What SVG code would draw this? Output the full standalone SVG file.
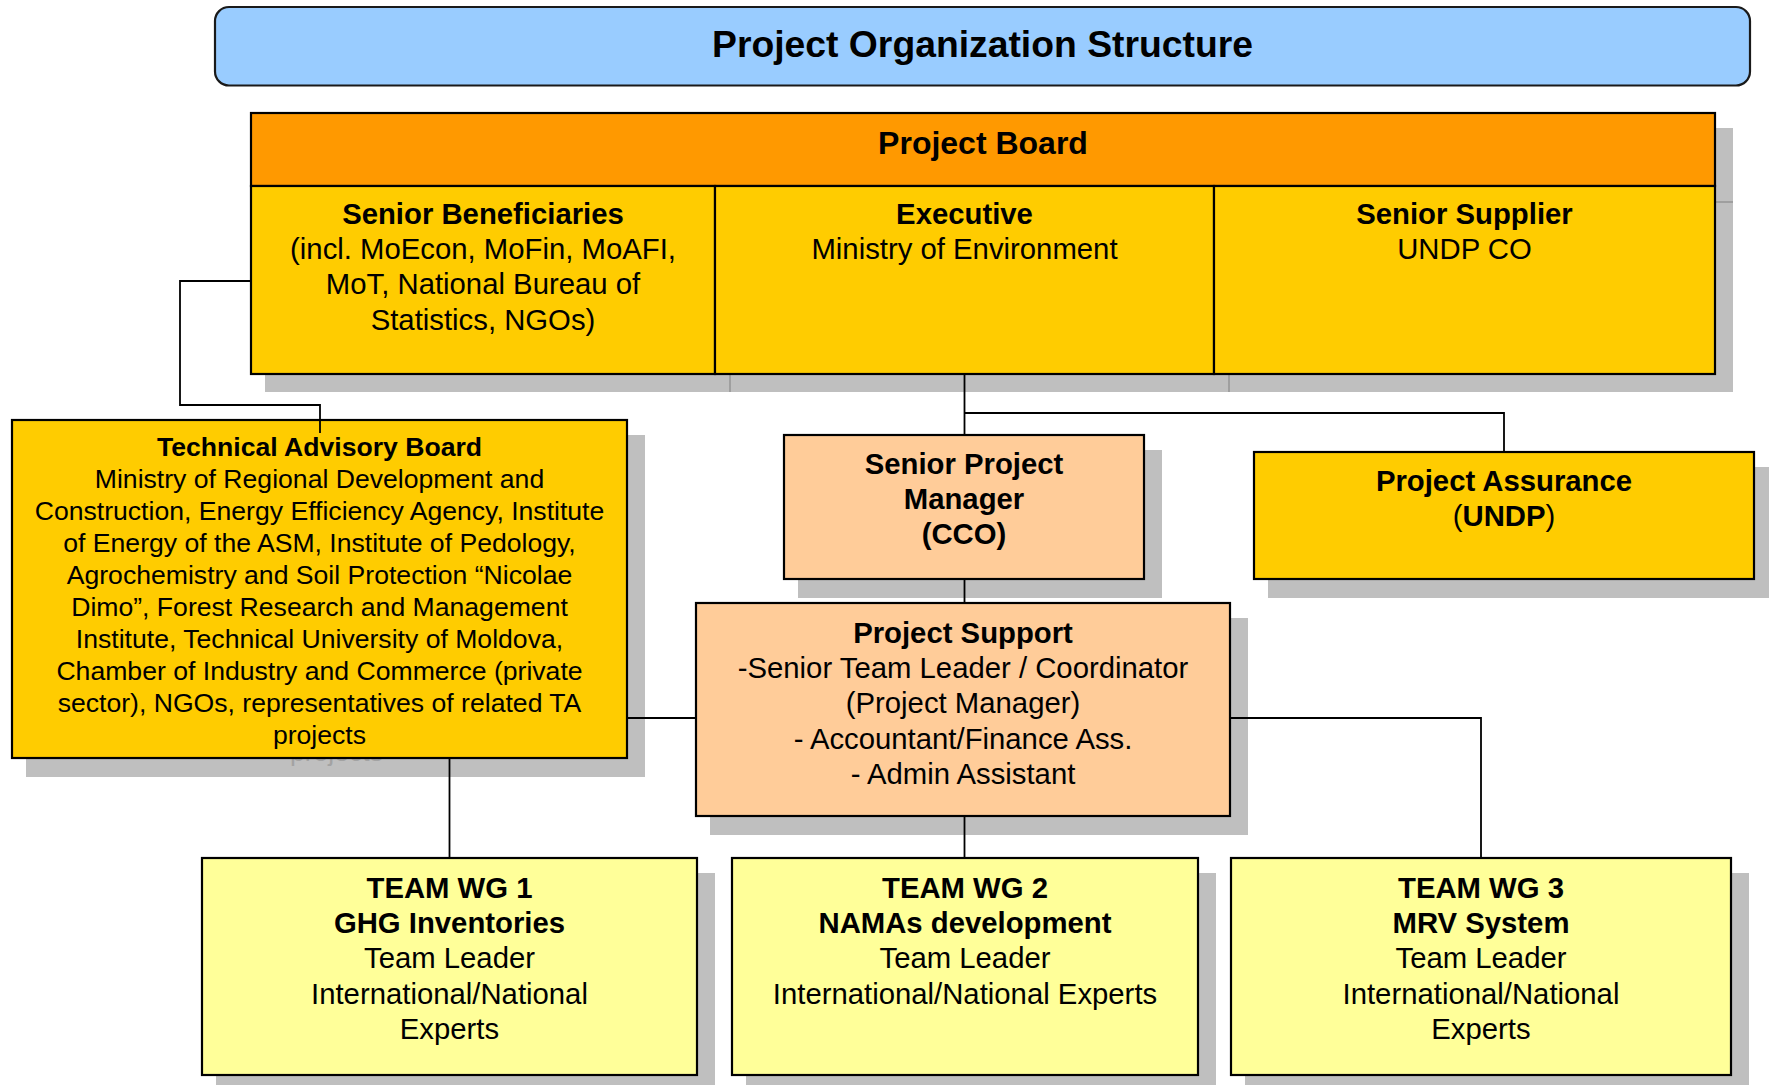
<svg xmlns="http://www.w3.org/2000/svg" width="1769" height="1085" viewBox="0 0 1769 1085">
  <style>
    text { font-family: "Liberation Sans", Arial, sans-serif; fill: #000; text-anchor: middle; }
    .b { font-weight: bold; }
    .t29 { font-size: 29.3px; }
    .t27 { font-size: 26.6px; }
    .box { stroke: #000; stroke-width: 2.2; }
    .shadow { fill: #7f7f7f; fill-opacity: 0.5; stroke: none; }
    .orange { fill: #FF9900; }
    .gold { fill: #FFCC00; }
    .peach { fill: #FFCC99; }
    .pale { fill: #FFFF99; }
    .conn { fill: none; stroke: #000; stroke-width: 1.8; }
  </style>
  <rect width="1769" height="1085" fill="#fff"/>

  <!-- title banner -->
  <g id="title">
    <rect x="215" y="7" width="1535" height="78.5" rx="14" ry="14" fill="#99CCFF" stroke="#1a1a1a" stroke-width="2.2"/>
    <text x="982.5" y="57" class="b" font-size="37.3px">Project Organization Structure</text>
  </g>

  <!-- project board: header bar plus three member cells -->
  <g id="project-board">
    <rect class="shadow" x="265" y="128" width="1468" height="75"/>
    <rect class="shadow" x="265" y="201" width="466" height="191"/>
    <rect class="shadow" x="729" y="201" width="501" height="191"/>
    <rect class="shadow" x="1228" y="201" width="505" height="191"/>
    <rect class="box orange" x="251" y="113" width="1464" height="73"/>
    <text x="983" y="154" class="b" font-size="32px">Project Board</text>
  </g>
  <g id="senior-beneficiaries">
    <rect class="box gold" x="251" y="186" width="464" height="188"/>
    <text class="t29" x="483" y="224"><tspan class="b">Senior Beneficiaries</tspan><tspan x="483" dy="35.2">(incl. MoEcon, MoFin, MoAFI,</tspan><tspan x="483" dy="35.2">MoT, National Bureau of</tspan><tspan x="483" dy="35.2">Statistics, NGOs)</tspan></text>
  </g>
  <g id="executive">
    <rect class="box gold" x="715" y="186" width="499" height="188"/>
    <text class="t29" x="964.5" y="224"><tspan class="b">Executive</tspan><tspan x="964.5" dy="35.2">Ministry of Environment</tspan></text>
  </g>
  <g id="senior-supplier">
    <rect class="box gold" x="1214" y="186" width="501" height="188"/>
    <text class="t29" x="1464.5" y="224"><tspan class="b">Senior Supplier</tspan><tspan x="1464.5" dy="35.2">UNDP CO</tspan></text>
  </g>

  <!-- technical advisory board -->
  <g id="technical-advisory-board">
    <rect class="shadow" x="26" y="435" width="619" height="342"/>
    <text class="t27" x="336.5" y="761" fill="#a3a3a3" style="fill:#a3a3a3">projects</text>
    <rect class="box gold" x="12" y="420" width="615" height="338"/>
    <text class="t27" x="319.5" y="456"><tspan class="b">Technical Advisory Board</tspan><tspan x="319.5" dy="32">Ministry of Regional Development and</tspan><tspan x="319.5" dy="32">Construction, Energy Efficiency Agency, Institute</tspan><tspan x="319.5" dy="32">of Energy of the ASM, Institute of Pedology,</tspan><tspan x="319.5" dy="32">Agrochemistry and Soil Protection “Nicolae</tspan><tspan x="319.5" dy="32">Dimo”, Forest Research and Management</tspan><tspan x="319.5" dy="32">Institute, Technical University of Moldova,</tspan><tspan x="319.5" dy="32">Chamber of Industry and Commerce (private</tspan><tspan x="319.5" dy="32">sector), NGOs, representatives of related TA</tspan><tspan x="319.5" dy="32">projects</tspan></text>
  </g>

  <!-- senior project manager -->
  <g id="senior-project-manager">
    <rect class="shadow" x="798" y="450" width="364" height="148"/>
    <rect class="box peach" x="784" y="435" width="360" height="144"/>
    <text class="t29 b" x="964" y="474"><tspan>Senior Project</tspan><tspan x="964" dy="35.2">Manager</tspan><tspan x="964" dy="35.2">(CCO)</tspan></text>
  </g>

  <!-- project assurance -->
  <g id="project-assurance">
    <rect class="shadow" x="1268" y="467" width="504" height="131"/>
    <rect class="box gold" x="1254" y="452" width="500" height="127"/>
    <text class="t29" x="1504" y="491"><tspan class="b">Project Assurance</tspan><tspan x="1504" dy="35.2">(<tspan class="b">UNDP</tspan>)</tspan></text>
  </g>

  <!-- project support -->
  <g id="project-support">
    <rect class="shadow" x="710" y="618" width="538" height="217"/>
    <rect class="box peach" x="696" y="603" width="534" height="213"/>
    <text class="t29" x="963" y="643"><tspan class="b">Project Support</tspan><tspan x="963" dy="35.2">-Senior Team Leader / Coordinator</tspan><tspan x="963" dy="35.2">(Project Manager)</tspan><tspan x="963" dy="35.2">- Accountant/Finance Ass.</tspan><tspan x="963" dy="35.2">- Admin Assistant</tspan></text>
  </g>

  <!-- working groups -->
  <g id="team-wg1">
    <rect class="shadow" x="216" y="873" width="499" height="220"/>
    <rect class="box pale" x="202" y="858" width="495" height="217"/>
    <text class="t29" x="449.5" y="898"><tspan class="b">TEAM WG 1</tspan><tspan class="b" x="449.5" dy="35.2">GHG Inventories</tspan><tspan x="449.5" dy="35.2">Team Leader</tspan><tspan x="449.5" dy="35.2">International/National</tspan><tspan x="449.5" dy="35.2">Experts</tspan></text>
  </g>
  <g id="team-wg2">
    <rect class="shadow" x="746" y="873" width="470" height="220"/>
    <rect class="box pale" x="732" y="858" width="466" height="217"/>
    <text class="t29" x="965" y="898"><tspan class="b">TEAM WG 2</tspan><tspan class="b" x="965" dy="35.2">NAMAs development</tspan><tspan x="965" dy="35.2">Team Leader</tspan><tspan x="965" dy="35.2">International/National Experts</tspan></text>
  </g>
  <g id="team-wg3">
    <rect class="shadow" x="1245" y="873" width="504" height="220"/>
    <rect class="box pale" x="1231" y="858" width="500" height="217"/>
    <text class="t29" x="1481" y="898"><tspan class="b">TEAM WG 3</tspan><tspan class="b" x="1481" dy="35.2">MRV System</tspan><tspan x="1481" dy="35.2">Team Leader</tspan><tspan x="1481" dy="35.2">International/National</tspan><tspan x="1481" dy="35.2">Experts</tspan></text>
  </g>

  <!-- reporting lines -->
  <g id="connectors" class="conn">
    <polyline points="251,281 180,281 180,405 320,405 320,433"/>
    <line x1="964.5" y1="374" x2="964.5" y2="435"/>
    <polyline points="964.5,413 1504,413 1504,452"/>
    <line x1="964.5" y1="579" x2="964.5" y2="603"/>
    <line x1="627" y1="718" x2="696" y2="718"/>
    <polyline points="1230,718 1481,718 1481,858"/>
    <line x1="964.5" y1="816" x2="964.5" y2="858"/>
    <line x1="449.5" y1="758" x2="449.5" y2="858"/>
  </g>
</svg>
